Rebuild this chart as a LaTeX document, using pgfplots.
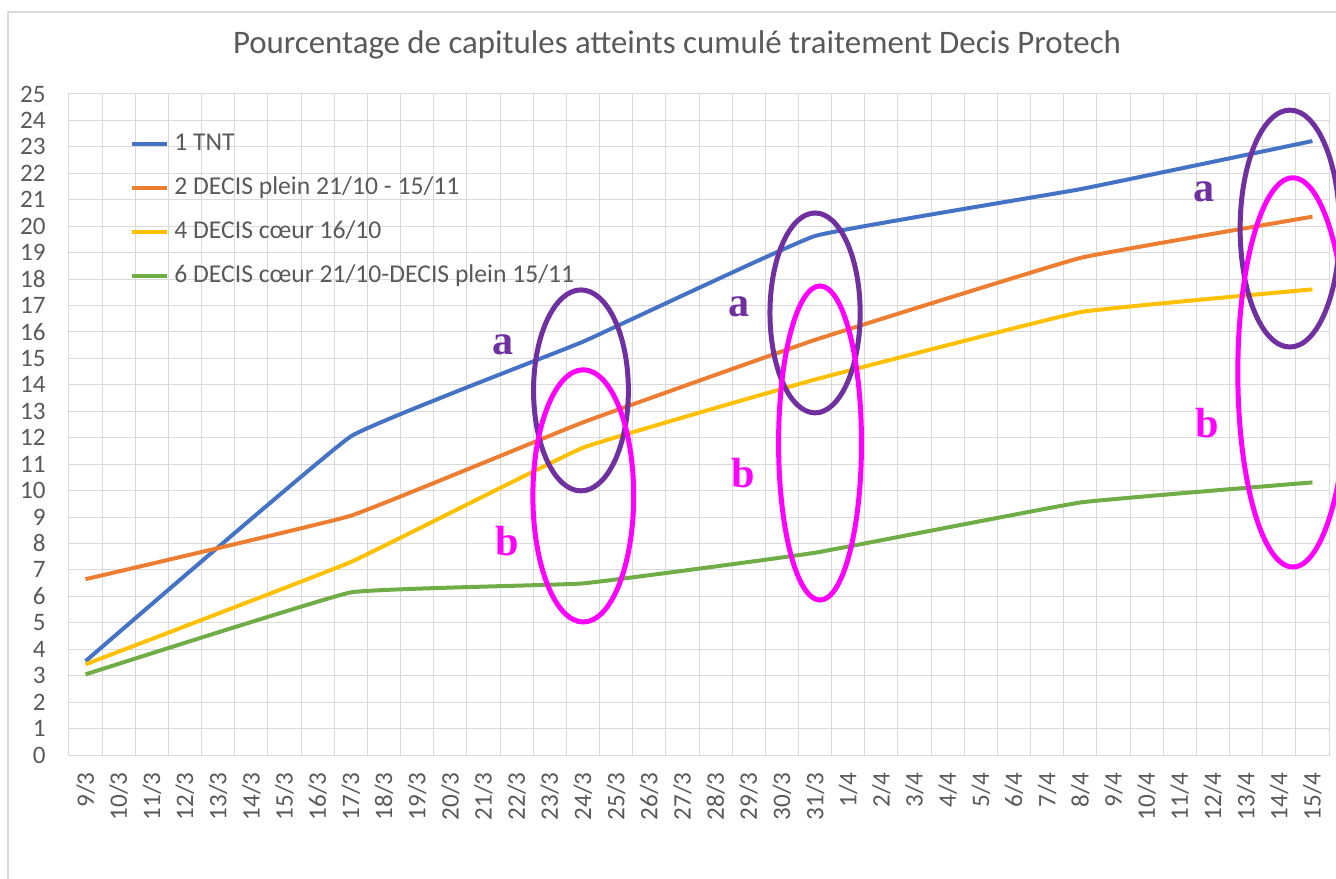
\documentclass[border=0pt]{standalone}
\usepackage{fontspec}
\setmainfont{Carlito}
\newfontfamily\serifbold{Liberation Serif}
\usepackage{pgfplots}
\pgfplotsset{compat=1.18}

\definecolor{txtgray}{HTML}{595959}
\definecolor{gridgray}{HTML}{D9D9D9}
\definecolor{tntblue}{HTML}{4472C4}
\definecolor{decorange}{HTML}{ED7D31}
\definecolor{coeuryellow}{HTML}{FFC000}
\definecolor{mixgreen}{HTML}{70AD47}
\definecolor{ringpurple}{HTML}{7030A0}
\definecolor{ringmagenta}{HTML}{FF00FF}

\begin{document}
\begin{tikzpicture}
\begin{axis}[
    name=ax,
    scale only axis,
    width=252mm, height=132.2mm,
    xmin=-0.5, xmax=37.5,
    ymin=0, ymax=25,
    xtick={0,...,37},
    xticklabels={9/3,10/3,11/3,12/3,13/3,14/3,15/3,16/3,17/3,18/3,19/3,20/3,21/3,22/3,23/3,24/3,25/3,26/3,27/3,28/3,29/3,30/3,31/3,1/4,2/4,3/4,4/4,5/4,6/4,7/4,8/4,9/4,10/4,11/4,12/4,13/4,14/4,15/4},
    minor xtick={-0.5,0.5,...,37.5},
    ytick={0,...,25},
    xmajorgrids=false, xminorgrids=true, ymajorgrids=true,
    grid style={draw=gridgray, line width=0.2mm},
    minor grid style={draw=gridgray, line width=0.2mm},
    axis line style={draw=gridgray, line width=0.2mm},
    major tick length=0pt, minor tick length=0pt,
    /pgf/number format/assume math mode=true,
    tick label style={font=\fontsize{14.3}{16}\selectfont, text=txtgray},
    xticklabel style={rotate=90, anchor=east, inner xsep=3.4mm, inner ysep=0pt},
    yticklabel style={anchor=east, inner xsep=4.6mm, inner ysep=0pt},
    clip=false,
    legend cell align=left,
    legend style={at={(0.0484,0.9425)}, anchor=north west, draw=none, fill=none,
        inner sep=0pt, row sep=4mm,
        font=\fontsize{14.6}{16}\selectfont, text=txtgray,
        nodes={inner sep=0pt, text height=3.6mm, text depth=1.2mm}},
    /tikz/every odd column/.style={column sep=1mm},
    legend image code/.code={\draw[#1] (0mm,0mm) -- (7mm,0mm);},
    every axis plot/.append style={line width=0.8mm, smooth, tension=0.15},
]
\addplot[color=tntblue] coordinates {
    (0,3.55) (8,12.05) (15,15.63) (22,19.63) (30,21.4) (37,23.22)
};
\addlegendentry{1 TNT}
\addplot[color=decorange] coordinates {
    (0,6.65) (8,9.05) (15,12.58) (22,15.7) (30,18.8) (37,20.36)
};
\addlegendentry{2 DECIS plein 21/10 - 15/11}
\addplot[color=coeuryellow] coordinates {
    (0,3.43) (8,7.3) (15,11.62) (22,14.2) (30,16.75) (37,17.61)
};
\addlegendentry{4 DECIS cœur 16/10}
\addplot[color=mixgreen] coordinates {
    (0,3.05) (8,6.15) (15,6.49) (22,7.65) (30,9.55) (37,10.31)
};
\addlegendentry{6 DECIS cœur 21/10-DECIS plein 15/11}

% annotation rings and letters
\draw[ringpurple, line width=1mm] (axis cs:14.94,13.79) ellipse [x radius=1.43, y radius=3.80];
\draw[ringmagenta, line width=1mm] (axis cs:15.01,9.80) ellipse [x radius=1.52, y radius=4.77];
\draw[ringpurple, line width=1mm] (axis cs:22.0,16.72) ellipse [x radius=1.36, y radius=3.78];
\draw[ringmagenta, line width=1mm] (axis cs:22.15,11.80) ellipse [x radius=1.25, y radius=5.94];
\draw[ringpurple, line width=1mm] (axis cs:36.32,19.91) ellipse [x radius=1.5, y radius=4.48];
\draw[ringmagenta, line width=1mm] (axis cs:36.41,14.47) ellipse [x radius=1.66, y radius=7.36];

\node[text=ringpurple, font=\serifbold\bfseries\fontsize{24}{26}\selectfont] at (axis cs:12.59,15.51) {a};
\node[text=ringmagenta, font=\serifbold\bfseries\fontsize{24}{26}\selectfont] at (axis cs:12.71,8.09) {b};
\node[text=ringpurple, font=\serifbold\bfseries\fontsize{24}{26}\selectfont] at (axis cs:19.70,16.94) {a};
\node[text=ringmagenta, font=\serifbold\bfseries\fontsize{24}{26}\selectfont] at (axis cs:19.82,10.67) {b};
\node[text=ringpurple, font=\serifbold\bfseries\fontsize{24}{26}\selectfont] at (axis cs:33.73,21.29) {a};
\node[text=ringmagenta, font=\serifbold\bfseries\fontsize{24}{26}\selectfont] at (axis cs:33.82,12.56) {b};
\end{axis}

\node[text=txtgray, font=\fontsize{18.7}{22}\selectfont] at ([xshift=-4.4mm,yshift=9.8mm]ax.north) {Pourcentage de capitules atteints cumulé traitement Decis Protech};
\draw[gridgray, line width=0.25mm] ([xshift=-12.2mm,yshift=16.4mm]ax.north west) rectangle ([xshift=10mm,yshift=-40mm]ax.south east);

\pgfresetboundingbox
\path ([xshift=-13.8mm,yshift=-24.6mm]ax.south west) rectangle ([xshift=1.4mm,yshift=18.8mm]ax.north east);
\end{tikzpicture}
\end{document}
